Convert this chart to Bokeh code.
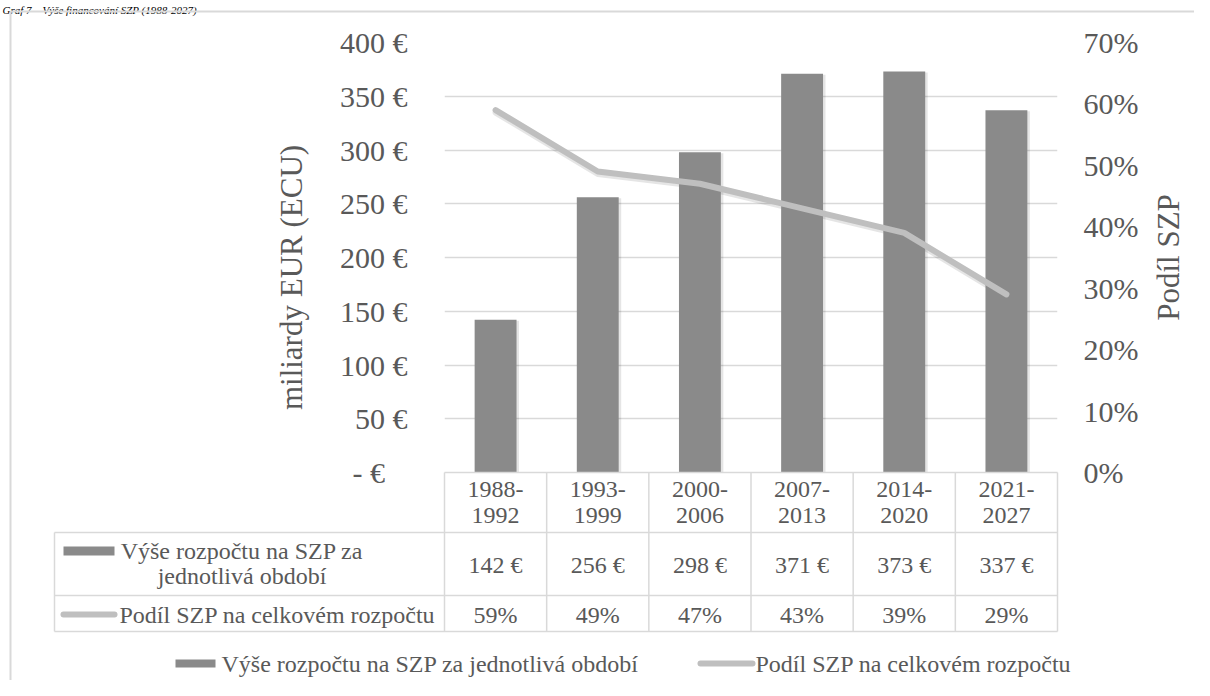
import numpy as np
from bokeh.plotting import figure
from bokeh.models import Range1d, LinearAxis, FixedTicker
from bokeh.embed import file_html
from bokeh.resources import INLINE
from bokeh.core.properties import value

# ---------------- data ----------------
categories = ["1988-1992", "1993-1999", "2000-2006", "2007-2013", "2014-2020", "2021-2027"]
budget = [142, 256, 298, 371, 373, 337]          # miliardy EUR
share = [59, 49, 47, 43, 39, 29]                 # %
eur_ticks = [0, 50, 100, 150, 200, 250, 300, 350, 400]
eur_labels = ["-\u00a0€\u2007\u00a0", "50 €", "100 €", "150 €", "200 €", "250 €", "300 €", "350 €", "400 €"]
pct_ticks = [0, 10, 20, 30, 40, 50, 60, 70]
pct_labels = ["0%", "10%", "20%", "30%", "40%", "50%", "60%", "70%"]
series_bar = "Výše rozpočtu na SZP za jednotlivá období"
series_bar_lines = ["Výše rozpočtu na SZP za", "jednotlivá období"]
series_line = "Podíl SZP na celkovém rozpočtu"
left_title = "miliardy EUR (ECU)"
right_title = "Podíl SZP"
chart_title = "Graf 7 – Výše financování SZP (1988-2027)"

# ---------------- geometry (reference pixels) ----------------
W, H = 1194, 680
OX, OY = 0, 0
FL, FR, FT, FB = 444, 1057, 42, 472
N = len(categories)
YMAX = 400
PMAX = 70

FONT = value("Liberation Serif")
TXT = "#595959"
GRID = "#d9d9d9"
BAR = "#8a8a8a"
LINE = "#bfbfbf"


def sx(px):
    return (px - FL) * N / (FR - FL)


def sy(py):
    return (FB - py) * YMAX / (FB - FT)


DX = N / (FR - FL)        # one pixel in x data units
DY = YMAX / (FB - FT)     # one pixel in y data units
DP = PMAX / (FB - FT)     # one pixel in pct units

p = figure(width=W, height=H, output_backend="svg", toolbar_location=None,
           x_range=Range1d(0, N), y_range=Range1d(0, YMAX),
           x_axis_location=None, y_axis_location="left",
           min_border_left=FL - OX, min_border_right=OX + W - FR,
           min_border_top=FT - OY, min_border_bottom=OY + H - FB)
p.extra_y_ranges = {"pct": Range1d(0, PMAX)}
p.outline_line_color = None
p.background_fill_color = "white"
p.border_fill_color = "white"

ra = LinearAxis(y_range_name="pct")
p.add_layout(ra, "right")
ya = p.yaxis[0]

ya.ticker = FixedTicker(ticks=eur_ticks)
ya.major_label_overrides = {t: l for t, l in zip(eur_ticks, eur_labels)}
ra.ticker = FixedTicker(ticks=pct_ticks)
ra.major_label_overrides = {t: l for t, l in zip(pct_ticks, pct_labels)}
for ax in (ya, ra):
    ax.axis_line_color = None
    ax.major_tick_line_color = None
    ax.minor_tick_line_color = None
    ax.major_tick_in = 0
    ax.major_tick_out = 0
    ax.major_label_text_font = "Liberation Serif"
    ax.major_label_text_font_size = "30px"
    ax.major_label_text_color = TXT
ya.major_label_standoff = 37
ra.major_label_standoff = 26

p.xgrid.visible = False
p.ygrid.ticker = FixedTicker(ticks=eur_ticks)
p.ygrid.grid_line_color = GRID
p.ygrid.grid_line_width = 1.5

xc = [i + 0.5 for i in range(N)]

# soft shadows
p.vbar(x=[x + 2.5 * DX for x in xc], top=[v - 1 * DY for v in budget], bottom=0, width=0.41,
       fill_color="black", fill_alpha=0.10, line_color=None)
p.line(x=xc, y=[s - 2.5 * DP for s in share], y_range_name="pct", line_color="black", line_alpha=0.10,
       line_width=6, line_cap="round", line_join="round")

# bars and line
p.vbar(x=xc, top=budget, bottom=0, width=0.41, fill_color=BAR, line_color=None)
p.line(x=xc, y=share, y_range_name="pct", line_color=LINE, line_width=6,
       line_cap="round", line_join="round")

OV = "overlay"

# chart title (kept small so it fits above the chart border)
p.text(x=[sx(2)], y=[sy(9)], text=[chart_title], text_align="left", text_baseline="alphabetic",
       text_font=FONT, text_font_size="11px", text_font_style="italic", text_color="#000000", level=OV)

# outer chart border (top + left)
p.segment(x0=[sx(10), sx(10)], y0=[sy(11), sy(11)], x1=[sx(OX + W + 5), sx(10)], y1=[sy(11), sy(OY + H + 5)],
          line_color=GRID, line_width=2, level=OV)

# data table grid
hx0 = [0, sx(54), sx(54), sx(54)]
hy = [sy(FB), sy(532), sy(595), sy(631)]
p.segment(x0=hx0, y0=hy, x1=[N] * 4, y1=hy, line_color=GRID, line_width=1.5, level=OV)
vx = list(range(N + 1)) + [sx(54)]
vy0 = [sy(FB)] * (N + 1) + [sy(532)]
p.segment(x0=vx, y0=vy0, x1=vx, y1=[sy(631)] * (N + 2), line_color=GRID, line_width=1.5, level=OV)

txt_kw = dict(text_font=FONT, text_font_size="24px", text_color=TXT, level=OV)

# header row (categories, two lines)
top_lines = [c.split("-")[0] + "-" for c in categories]
bot_lines = [c.split("-")[1] for c in categories]
p.text(x=xc, y=[sy(489)] * N, text=top_lines, text_align="center", text_baseline="middle", **txt_kw)
p.text(x=xc, y=[sy(515)] * N, text=bot_lines, text_align="center", text_baseline="middle", **txt_kw)

# values rows
p.text(x=xc, y=[sy(564)] * N, text=[f"{v} €" for v in budget], text_align="center", text_baseline="middle", **txt_kw)
p.text(x=xc, y=[sy(614)] * N, text=[f"{v}%" for v in share], text_align="center", text_baseline="middle", **txt_kw)

# row headers
p.quad(left=[sx(63)], right=[sx(114)], top=[sy(546)], bottom=[sy(555)], fill_color=BAR, line_color=None, level=OV)
p.text(x=[sx(241.5), sx(241.5)], y=[sy(550), sy(575)], text=series_bar_lines,
       text_align="center", text_baseline="middle", **txt_kw)
p.line(x=[sx(63), sx(114)], y=[sy(614), sy(614)], line_color=LINE, line_width=6, line_cap="round", level=OV)
p.text(x=[sx(119)], y=[sy(614)], text=[series_line], text_align="left", text_baseline="middle", **txt_kw)

# legend
p.quad(left=[sx(175)], right=[sx(215)], top=[sy(659)], bottom=[sy(667)], fill_color=BAR, line_color=None, level=OV)
p.text(x=[sx(221)], y=[sy(663)], text=[series_bar], text_align="left", text_baseline="middle", **txt_kw)
p.line(x=[sx(700), sx(752)], y=[sy(663), sy(663)], line_color=LINE, line_width=6, line_cap="round", level=OV)
p.text(x=[sx(755)], y=[sy(663)], text=[series_line], text_align="left", text_baseline="middle", **txt_kw)

# axis titles
p.text(x=[sx(291)], y=[sy(277)], text=[left_title], angle=np.pi / 2, text_align="center", text_baseline="middle",
       text_font=FONT, text_font_size="31px", text_color=TXT, level=OV)
p.text(x=[sx(1168)], y=[sy(257)], text=[right_title], angle=np.pi / 2, text_align="center", text_baseline="middle",
       text_font=FONT, text_font_size="31px", text_color=TXT, level=OV)

open("out.html", "w").write(file_html(p, INLINE))
